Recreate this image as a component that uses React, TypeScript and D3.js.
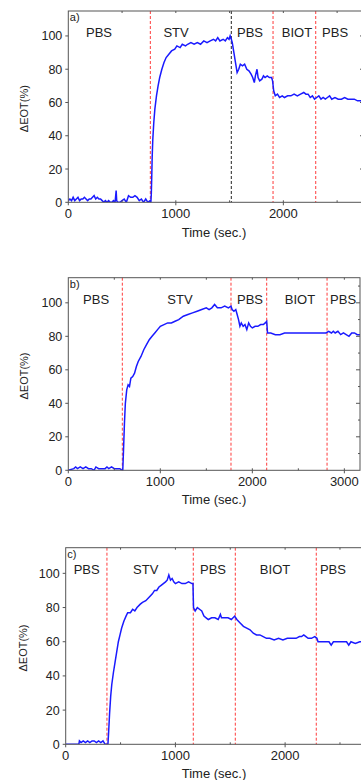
import React from "react";
import * as d3 from "d3";

// Panel a) - time (s) and ΔEOT (%)
const timeA = [0, 15, 30, 45, 60, 75, 90, 105, 120, 135, 150, 165, 180, 195, 210, 225, 240, 255, 270, 285, 300, 315, 330, 345, 360, 375, 390, 405, 420, 435, 445, 450, 460, 480, 500, 520, 540, 560, 580, 600, 620, 640, 660, 680, 700, 720, 740, 760, 768,
  772, 776, 780, 786, 795, 805, 820, 835, 850, 870, 890, 910, 935, 960, 990, 1010, 1040, 1060, 1090, 1110, 1140, 1170, 1200, 1230, 1260, 1290, 1320, 1350, 1370, 1390, 1410, 1440, 1460, 1480, 1495, 1505, 1516,
  1525, 1540, 1555, 1570, 1585, 1600, 1620, 1640, 1660, 1680, 1700, 1715, 1730, 1740, 1755, 1765, 1780, 1800, 1815, 1830, 1850, 1870, 1890, 1900, 1910, 1925, 1945, 1965, 1990, 2010, 2040, 2070, 2100, 2130, 2160, 2190, 2210, 2230, 2250, 2270, 2290, 2310, 2330, 2350, 2370, 2390, 2410, 2430, 2450, 2480, 2510, 2540, 2570, 2600, 2630, 2660, 2690, 2720, 2750];
const eotA = [1, 2, 1, 3, 1, 2, 3, 1, 2, 2, 3, 2, 1, 2, 2, 3, 4, 2, 3, 2, 2, 1, 0, 1, 0, 1, 0, 0, 1, 0, 7, 1, 0, 0, 1, 2, 0, 4, 3, 3, 4, 3, 1, 2, 0, 2, 0, 1, 0,
  5, 15, 27, 38, 48, 56, 64, 70, 75, 80, 84, 87, 89, 91, 92, 94, 93, 95, 94, 95, 96, 95, 96, 95, 97, 96, 97, 98, 97, 99, 97, 98, 97, 99, 98, 100, 98,
  96, 90, 84, 78, 80, 83, 82, 83, 80, 79, 77, 75, 72, 76, 80, 75, 73, 74, 76, 75, 76, 75, 75, 73, 67, 64, 65, 63, 64, 63, 64, 64, 65, 64, 65, 66, 65, 65, 63, 64, 62, 63, 64, 62, 63, 62, 63, 64, 62, 63, 62, 62, 63, 62, 62, 62, 61, 61, 60];

// Panel b)
const timeB = [0, 60, 80, 100, 130, 160, 190, 220, 250, 280, 300, 330, 360, 400, 420, 440, 470, 500, 530, 560, 585, 592,
  600, 610, 620, 635, 650, 665, 680, 700, 720, 740, 760, 790, 820, 850, 880, 910, 940, 970, 1000, 1040, 1080, 1120, 1160, 1200, 1250, 1300, 1350, 1400, 1450, 1500, 1530, 1560, 1590, 1620, 1660, 1700, 1740, 1768,
  1780, 1800, 1820, 1835, 1850, 1865, 1880, 1900, 1920, 1940, 1960, 1980, 2000, 2030, 2060, 2090, 2120, 2140, 2156, 2165, 2200, 2250, 2300, 2350, 2400, 2450, 2500, 2550, 2600, 2650, 2700, 2750, 2800, 2830, 2860, 2880, 2900, 2930, 2960, 2990, 3020, 3050, 3080, 3110, 3140, 3170];
const eotB = [0, 1, 2, 1, 2, 1, 2, 1, 1, 0, 2, 1, 1, 1, 2, 1, 2, 1, 1, 1, 0, 0,
  12, 28, 40, 48, 51, 50, 55, 56, 58, 62, 65, 68, 72, 75, 78, 80, 82, 84, 86, 87, 88, 88, 89, 90, 92, 93, 94, 95, 96, 97, 96, 97, 99, 97, 97, 98, 97, 98,
  96, 95, 96, 93, 90, 86, 88, 86, 87, 84, 88, 86, 85, 86, 86, 87, 87, 88, 89, 82, 82, 81, 81, 82, 82, 82, 82, 82, 82, 82, 82, 82, 82, 83, 82, 83, 82, 83, 81, 82, 81, 80, 82, 82, 81, 81];

// Panel c)
const timeC = [0, 120, 125, 140, 160, 180, 200, 220, 240, 260, 280, 300, 320, 340, 360, 375, 385,
  392, 400, 410, 420, 435, 450, 465, 480, 495, 510, 530, 550, 565, 590, 610, 630, 650, 680, 700, 730, 760, 790, 810, 830, 850, 870, 890, 910, 925, 940, 955, 970, 985, 1000, 1030, 1060, 1090, 1120, 1150, 1160,
  1165, 1180, 1200, 1220, 1240, 1260, 1280, 1300, 1330, 1360, 1390, 1410, 1420, 1450, 1480, 1510, 1540, 1560, 1590, 1620, 1650, 1680, 1710, 1740, 1770, 1800, 1830, 1860, 1900, 1940, 1980, 2020, 2060, 2100, 2130, 2150, 2170, 2190, 2210, 2240, 2270, 2290, 2300, 2350, 2400, 2420, 2440, 2500, 2560, 2580, 2600, 2640, 2680, 2750];
const eotC = [0, 0, 2, 1, 2, 1, 2, 1, 2, 2, 1, 2, 1, 2, 0, 0, 0,
  8, 18, 28, 35, 42, 48, 54, 60, 64, 68, 72, 75, 77, 77, 79, 78, 80, 82, 83, 84, 86, 88, 90, 90, 92, 93, 94, 95, 96, 99, 96, 97, 95, 94, 95, 94, 94, 95, 94, 94,
  80, 78, 80, 79, 78, 75, 74, 73, 74, 74, 73, 76, 74, 74, 74, 73, 75, 73, 71, 69, 68, 67, 65, 64, 64, 63, 62, 62, 61, 62, 61, 62, 62, 62, 63, 63, 64, 63, 62, 62, 63, 62, 60, 60, 60, 58, 60, 60, 60, 58, 60, 59, 60, 60];

// injection boundaries (s)
const switchA = [763, 1516, 1904, 2301];
const switchColorA = ["red", "black", "red", "red"];
const switchB = [587, 1768, 2156, 2812];
const switchC = [376, 1163, 1546, 2284];

const phaseNames = ["PBS", "STV", "PBS", "BIOT", "PBS"];
const labelXA = [286, 1002, 1690, 2127, 2481];
const labelXB = [302, 1214, 1975, 2518, 2986];
const labelXC = [191, 729, 1343, 1908, 2436];

const yTicks = [0, 20, 40, 60, 80, 100];

const FONT = "'Liberation Sans', Arial, sans-serif";

function Panel(props) {
  const { tag, time, eot, switches, switchColors, labelX, xMax, left, right, top, bottom, xTicks, titleY, yTitleX } = props;
  const x = d3.scaleLinear().domain([0, xMax]).range([left, right]);
  const y = d3.scaleLinear().domain([0, 115]).range([bottom, top]);
  const pts = time.map((t, i) => [t, eot[i]]);
  const line = d3.line().x((d) => x(d[0])).y((d) => y(d[1]));
  const clipId = "clip-" + tag;
  const minorX = d3.range(500, xMax, 500);
  const minorY = d3.range(10, 115, 10);

  return (
    <g>
      <defs>
        <clipPath id={clipId}>
          <rect x={left} y={top} width={right - left} height={bottom - top} />
        </clipPath>
      </defs>
      {/* phase boundaries */}
      {switches.map((s, i) => (
        <line key={"s" + i} x1={x(s)} x2={x(s)} y1={top} y2={bottom}
          stroke={switchColors && switchColors[i] === "black" ? "#222" : "#ff3b3b"}
          strokeWidth={1} strokeDasharray="3,2" />
      ))}
      <path d={line(pts)} fill="none" stroke="#1a1aff" strokeWidth={1.5} clipPath={`url(#${clipId})`} />
      {/* frame */}
      <rect x={left} y={top} width={right - left} height={bottom - top} fill="none" stroke="#555" strokeWidth={1} />
      {/* left axis */}
      {yTicks.map((v) => (
        <g key={"y" + v}>
          <line x1={left - 3} x2={left} y1={y(v)} y2={y(v)} stroke="#555" />
          <text x={left - 6} y={y(v)} dy="0.36em" textAnchor="end" fontSize={12.5} fill="#222">{v}</text>
        </g>
      ))}
      {/* right axis (inward) */}
      {minorY.map((v) => (
        <line key={"r" + v} x1={right - (v % 20 === 0 ? 4 : 2)} x2={right} y1={y(v)} y2={y(v)} stroke="#555" />
      ))}
      {/* bottom / top ticks */}
      {minorX.map((v) => (
        <g key={"m" + v}>
          <line x1={x(v)} x2={x(v)} y1={bottom} y2={bottom - 2} stroke="#555" />
          <line x1={x(v)} x2={x(v)} y1={top} y2={top + 2} stroke="#555" />
        </g>
      ))}
      {xTicks.map((v) => (
        <g key={"x" + v}>
          <line x1={x(v)} x2={x(v)} y1={bottom} y2={bottom + 3} stroke="#555" />
          <text x={x(v)} y={bottom + 16} textAnchor="middle" fontSize={13} fill="#222">{v}</text>
        </g>
      ))}
      {/* phase labels */}
      {phaseNames.map((n, i) => (
        <text key={"l" + i} x={x(labelX[i])} y={top + 26} textAnchor="middle" fontSize={13} fill="#222">{n}</text>
      ))}
      <text x={left + 1.5} y={top + 10} fontSize={11} fill="#222">{tag + ")"}</text>
      <text x={214} y={titleY} textAnchor="middle" fontSize={13} fill="#222">Time (sec.)</text>
      <text transform={`translate(${yTitleX},${(top + bottom) / 2 + 2}) rotate(-90)`} textAnchor="middle" fontSize={11} fill="#222">ΔEOT(%)</text>
    </g>
  );
}

export default function App() {
  return (
    <svg width={361} height={780} style={{ position: "absolute", left: 0, top: 0, background: "#fff" }} fontFamily={FONT}>
      <Panel tag="a" time={timeA} eot={eotA} switches={switchA} switchColors={switchColorA} labelX={labelXA}
        xMax={2750} left={68.3} right={364} top={11} bottom={202.3} xTicks={[0, 1000, 2000]} titleY={237} yTitleX={28} />
      <Panel tag="b" time={timeB} eot={eotB} switches={switchB} labelX={labelXB}
        xMax={3170} left={68.3} right={360} top={277.7} bottom={470.3} xTicks={[0, 1000, 2000, 3000]} titleY={504} yTitleX={28} />
      <Panel tag="c" time={timeC} eot={eotC} switches={switchC} labelX={labelXC}
        xMax={2750} left={65.7} right={367.4} top={547.7} bottom={744.3} xTicks={[0, 1000, 2000]} titleY={778} yTitleX={27} />
    </svg>
  );
}
